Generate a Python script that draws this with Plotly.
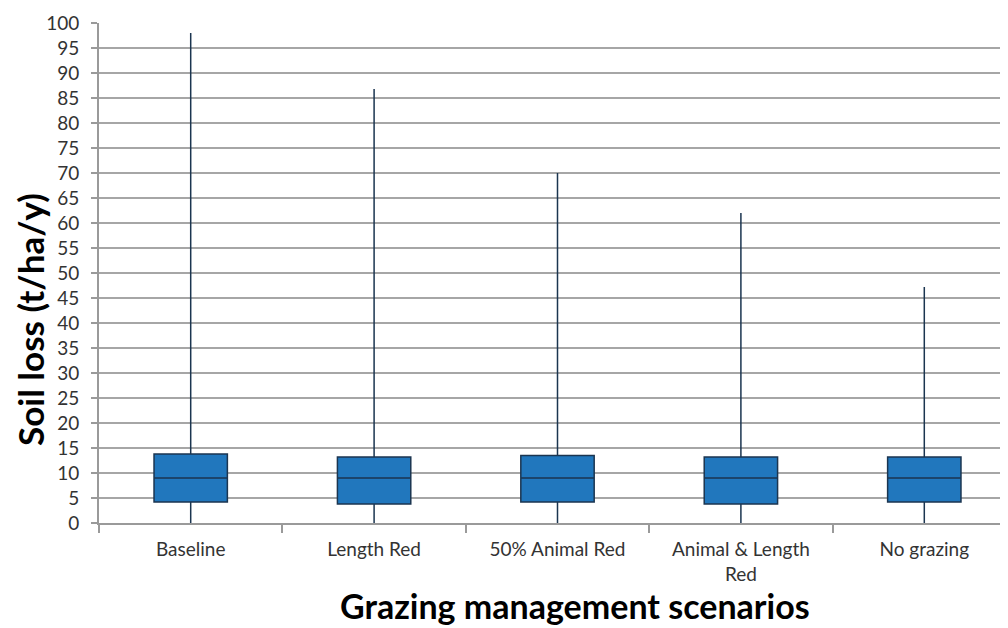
import plotly.graph_objects as go

scenarios = ["Baseline", "Length Red", "50% Animal Red", "Animal & Length<br>Red", "No grazing"]
lower = [0, 0, 0, 0, 0]
q1 = [4.2, 3.8, 4.2, 3.8, 4.2]
median = [9.0, 9.0, 9.0, 9.0, 9.0]
q3 = [13.8, 13.2, 13.5, 13.2, 13.2]
upper = [98, 86.8, 70, 62, 47.2]

font_family = "Lato, 'Open Sans', sans-serif"

# the page puts the figure 8px in from the top-left corner
left, top, plot_w, plot_h = 91, 15, 917, 500

fig = go.Figure()

fig.add_trace(
    go.Box(
        x=scenarios,
        lowerfence=lower,
        q1=q1,
        median=median,
        q3=q3,
        upperfence=upper,
        fillcolor="#2177bd",
        line={"color": "#1b3550", "width": 1.5},
        whiskerwidth=0,
        width=0.4,
        boxpoints=False,
        showlegend=False,
    )
)

fig.update_layout(
    width=1008,
    height=628,
    paper_bgcolor="white",
    plot_bgcolor="white",
    margin=dict(l=left, r=0, t=top, b=628 - top - plot_h),
    font=dict(family=font_family, color="#333333"),
)

fig.update_xaxes(
    range=[-0.5, 4.5],
    showline=True,
    linecolor="#9a9a9a",
    linewidth=2,
    showgrid=False,
    ticks="outside",
    tickson="boundaries",
    ticklen=8,
    tickcolor="#9a9a9a",
    tickwidth=2,
    ticklabelstandoff=8,
    tickfont=dict(size=19, color="#333333"),
)

fig.update_yaxes(
    range=[0, 100],
    dtick=5,
    showline=True,
    linecolor="#9a9a9a",
    linewidth=2,
    showgrid=True,
    gridcolor="#a6a6a6",
    gridwidth=2,
    zeroline=False,
    ticks="outside",
    ticklen=6,
    tickcolor="#9a9a9a",
    tickwidth=2,
    ticklabelstandoff=8,
    tickfont=dict(size=19, color="#333333"),
)

fig.add_annotation(
    text="<b>Soil loss (t/ha/y)</b>",
    xref="paper", yref="paper",
    x=(22 - left) / plot_w, y=(515 - 312) / plot_h,
    textangle=-90,
    showarrow=False,
    font=dict(size=35, color="black"),
    xanchor="center", yanchor="middle",
)

fig.add_annotation(
    text="<b>Grazing management scenarios</b>",
    xref="paper", yref="paper",
    x=(567 - left) / plot_w, y=-(597 - 515) / plot_h,
    showarrow=False,
    font=dict(size=34, color="black"),
    xanchor="center", yanchor="middle",
)

fig.write_html("out.html")
